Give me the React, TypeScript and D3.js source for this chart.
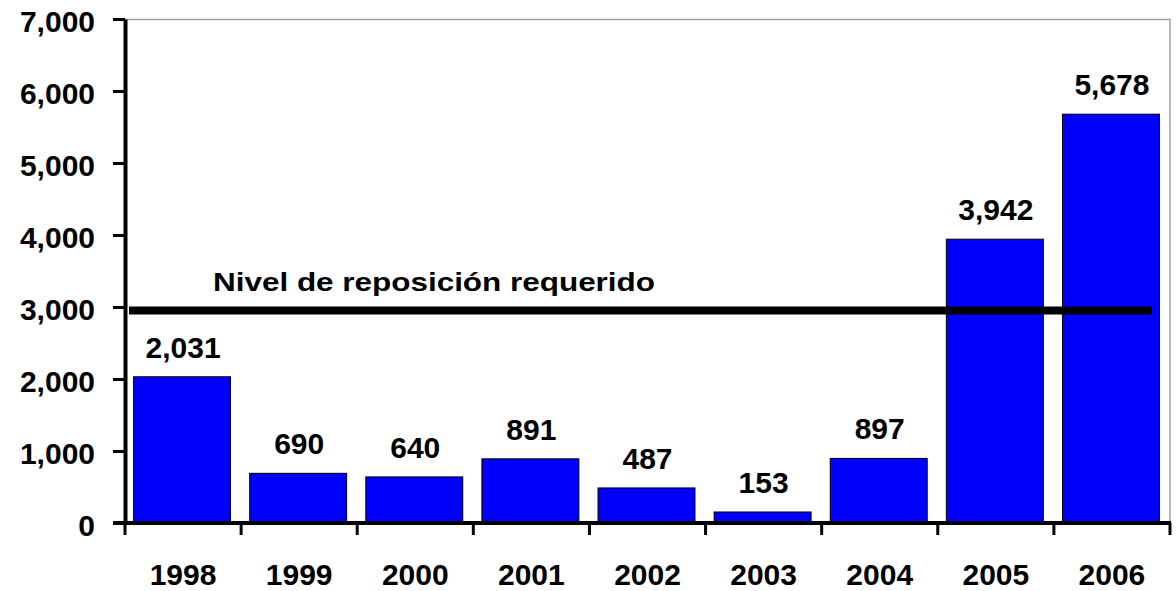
import { useEffect, useRef } from 'react';
import * as d3 from 'd3';

const years = ['1998', '1999', '2000', '2001', '2002', '2003', '2004', '2005', '2006'];
const values = [2031, 690, 640, 891, 487, 153, 897, 3942, 5678];
const yTicks = [0, 1000, 2000, 3000, 4000, 5000, 6000, 7000];
const levelValue = 2950;
const levelLabel = 'Nivel de reposición requerido';

const App = () => {
  const svgRef = useRef<SVGSVGElement | null>(null);

  useEffect(() => {
    const W = 1176;
    const H = 591;
    const margin = { top: 19, right: 6, bottom: 68, left: 125 };
    const width = W - margin.left - margin.right;
    const height = H - margin.top - margin.bottom;
    const font = '"Liberation Sans", Arial, sans-serif';

    const root = d3.select(svgRef.current);
    root.selectAll('*').remove();
    root.attr('width', W).attr('height', H);

    const svg = root.append('g')
      .attr('transform', `translate(${margin.left},${margin.top})`);

    const x = d3.scaleBand()
      .domain(years)
      .range([0, width])
      .paddingInner(0.165)
      .paddingOuter(0.0825);

    const y = d3.scaleLinear()
      .domain([0, 7000])
      .range([height, 0]);

    // light frame on top and right
    svg.append('path')
      .attr('d', `M0,0.5H${width}V${height}`)
      .attr('fill', 'none')
      .attr('stroke', '#a0a0a0')
      .attr('stroke-width', 1.5);

    svg.selectAll('.bar')
      .data(values)
      .enter().append('rect')
      .attr('class', 'bar')
      .attr('x', (_, i) => x(years[i])! - 1)
      .attr('y', d => y(d))
      .attr('width', x.bandwidth())
      .attr('height', d => height - y(d))
      .attr('fill', '#0000ff')
      .attr('stroke', '#000')
      .attr('stroke-width', 1);

    svg.selectAll('.val')
      .data(values)
      .enter().append('text')
      .attr('class', 'val')
      .attr('x', (_, i) => x(years[i])! + x.bandwidth() / 2)
      .attr('y', d => y(d) - 19)
      .attr('text-anchor', 'middle')
      .style('font-family', font)
      .style('font-weight', 'bold')
      .style('font-size', '30px')
      .text(d => d3.format(',')(d));

    // required level line
    svg.append('line')
      .attr('x1', 4)
      .attr('x2', width - 18)
      .attr('y1', y(levelValue))
      .attr('y2', y(levelValue))
      .attr('stroke', '#000')
      .attr('stroke-width', 8);

    svg.append('text')
      .attr('x', 88)
      .attr('y', y(levelValue) - 20)
      .attr('textLength', 442)
      .attr('lengthAdjust', 'spacingAndGlyphs')
      .style('font-family', font)
      .style('font-weight', 'bold')
      .style('font-size', '25px')
      .text(levelLabel);

    // y axis
    const yAxis = svg.append('g')
      .call(d3.axisLeft(y).tickValues(yTicks).tickFormat(d3.format(',')).tickSize(12).tickSizeOuter(0).tickPadding(18));
    yAxis.select('.domain').attr('stroke-width', 4);
    yAxis.selectAll('.tick line').attr('stroke-width', 3);
    yAxis.selectAll('text')
      .style('font-family', font)
      .style('font-weight', 'bold')
      .style('font-size', '30px')
      .attr('dy', '0.4em');

    // x axis with ticks at band boundaries
    const xAxis = svg.append('g')
      .attr('transform', `translate(0,${height})`);
    xAxis.append('line')
      .attr('x1', -12)
      .attr('x2', width + 1)
      .attr('stroke', '#000')
      .attr('stroke-width', 4);
    const step = x.step();
    const bounds = d3.range(years.length + 1).map(i => i * step);
    xAxis.selectAll('.xt')
      .data(bounds)
      .enter().append('line')
      .attr('class', 'xt')
      .attr('x1', d => d)
      .attr('x2', d => d)
      .attr('y1', 0)
      .attr('y2', 12)
      .attr('stroke', '#000')
      .attr('stroke-width', 3);
    xAxis.selectAll('.xl')
      .data(years)
      .enter().append('text')
      .attr('class', 'xl')
      .attr('x', d => x(d)! + x.bandwidth() / 2)
      .attr('y', 62)
      .attr('text-anchor', 'middle')
      .style('font-family', font)
      .style('font-weight', 'bold')
      .style('font-size', '30px')
      .text(d => d);
  }, []);

  return (
    <div style={{ position: 'absolute', left: 0, top: 0, background: '#fff' }}>
      <svg ref={svgRef} style={{ display: 'block' }}></svg>
    </div>
  );
};

export default App;
